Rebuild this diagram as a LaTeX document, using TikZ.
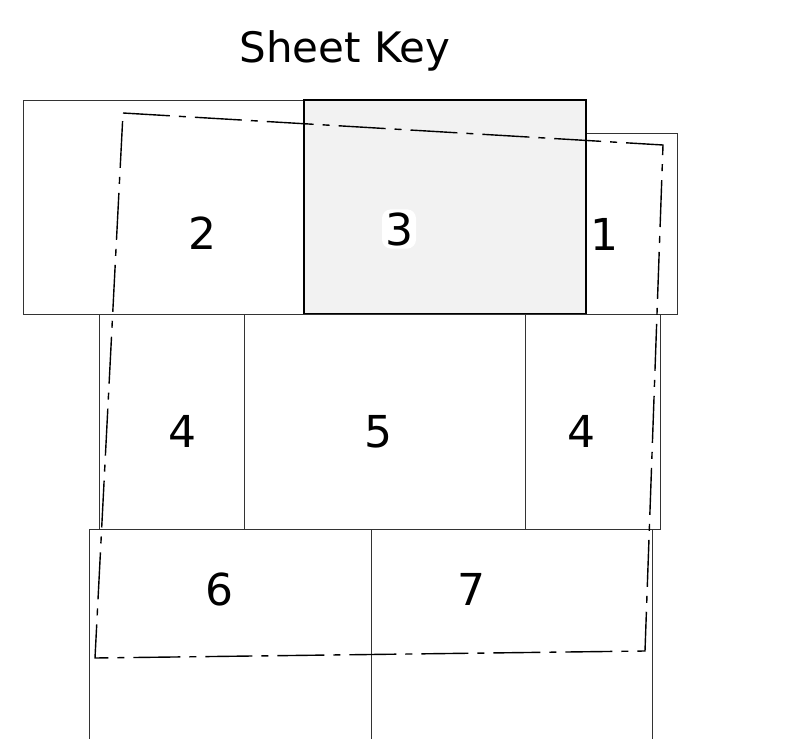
\documentclass[tikz,border=0pt]{standalone}
\usepackage{fontspec}
\setmainfont{DejaVu Sans}

\begin{document}
\begin{tikzpicture}[x=1pt,y=-1pt,
 sheet/.style={draw=black!80,line width=0.9pt},
 current/.style={draw=black,line width=2pt,fill=black!5},
 limit/.style={draw=black,line width=1.4pt,dash pattern=on 47pt off 9pt on 7pt off 9pt},
 num/.style={font=\fontsize{44}{46}\selectfont,anchor=base,inner sep=0pt}]
\useasboundingbox (0,0) rectangle (796,739);
\node[font=\fontsize{42}{46}\selectfont,anchor=base] (title) at (345,62) {Sheet Key};
% top row
\draw[sheet] (23,100) rectangle (305,314);
\draw[sheet] (586,133) rectangle (677,314);
\draw[current] (304,100) rectangle (586,314);
% middle row
\draw[sheet] (99,314) rectangle (244,529);
\draw[sheet] (244,314) rectangle (525,529);
\draw[sheet] (525,314) rectangle (660,529);
% bottom row
\draw[sheet] (89,739) -- (89,529) -- (652,529) -- (652,739);
\draw[sheet] (371,529) -- (371,739);
% boundary
\draw[limit] (123,113) -- (663,145) -- (645,651) -- (95,658) -- cycle;
% labels
\node[num] (s2) at (202,249) {2};
\node[num,fill=white,rounded corners=9pt,inner sep=3pt] (s3) at (399,245) {3};
\node[num] (s1) at (604,250) {1};
\node[num] (s4a) at (182,447) {4};
\node[num] (s5) at (378,447) {5};
\node[num] (s4b) at (581,447) {4};
\node[num] (s6) at (219,605) {6};
\node[num] (s7) at (471,605) {7};
\end{tikzpicture}
\end{document}
